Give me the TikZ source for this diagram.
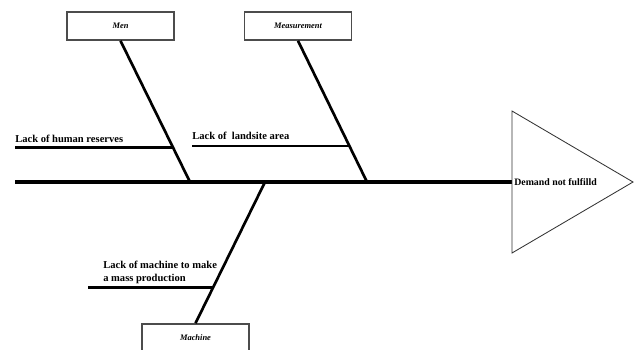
\documentclass[tikz,border=0pt]{standalone}
\usepackage{fontspec}
\setmainfont{Liberation Serif}
\usetikzlibrary{calc}

\tikzset{cause/.style={draw=black!70,line width=1.1pt,fill=white,
    minimum width=2.675cm,minimum height=0.7cm,
    font=\bfseries\itshape\fontsize{6}{7}\selectfont},
  why/.style={font=\bfseries\fontsize{7.5}{9.5}\selectfont,inner sep=0pt,align=left},
  bone/.style={line width=1.9pt},
  spine/.style={line width=2.3pt}}

\begin{document}
\begin{tikzpicture}[x=0.025cm,y=-0.025cm]
\useasboundingbox (0,0) rectangle (635,349);
\node[cause] (men) at (120.5,26) {Men};
\node[cause] (meas) at (298,26) {Measurement};
\node[cause] (mach) at (195.5,338) {Machine};
\coordinate (tail) at (15,182);
\coordinate (head) at (512,182);
\coordinate (m1) at (190,182);
\coordinate (m2) at (367,182);
\coordinate (m3) at (265,182);
\begin{scope}[spine]
    \draw (tail) -- (head);
\end{scope}
\begin{scope}[bone]
    \draw (men.south) -- (m1) coordinate[pos=0.754] (hr);
    \draw (meas.south) -- (m2) coordinate[pos=0.746] (la);
    \draw (m3) -- (mach.north) coordinate[pos=0.746] (mp);
    \draw (tail |- hr) -- (hr);
    \draw (192,0 |- la) coordinate (la0) -- (la);
    \draw (88,0 |- mp) coordinate (mp0) -- (mp);
\end{scope}
\node[why,anchor=south west] (hrtext) at ($(tail |- hr)+(0,-4)$) {Lack of human reserves};
\node[why,anchor=south west] (latext) at ($(la0)+(0,-6)$) {Lack of~ landsite area};
\node[why,anchor=south west] (mptext) at ($(mp0)+(15,-3)$) {Lack of machine to make\\a mass production};
\draw[black!80,line width=0.6pt] (head |- 0,111) coordinate (e1) -- (633,182) coordinate (e2)
    -- (head |- 0,253) coordinate (e3) -- cycle;
\node[why,anchor=west,font=\bfseries\fontsize{7}{8}\selectfont] (effect) at ($(head)+(2,0)$) {Demand not fulfilld};
\end{tikzpicture}
\end{document}
